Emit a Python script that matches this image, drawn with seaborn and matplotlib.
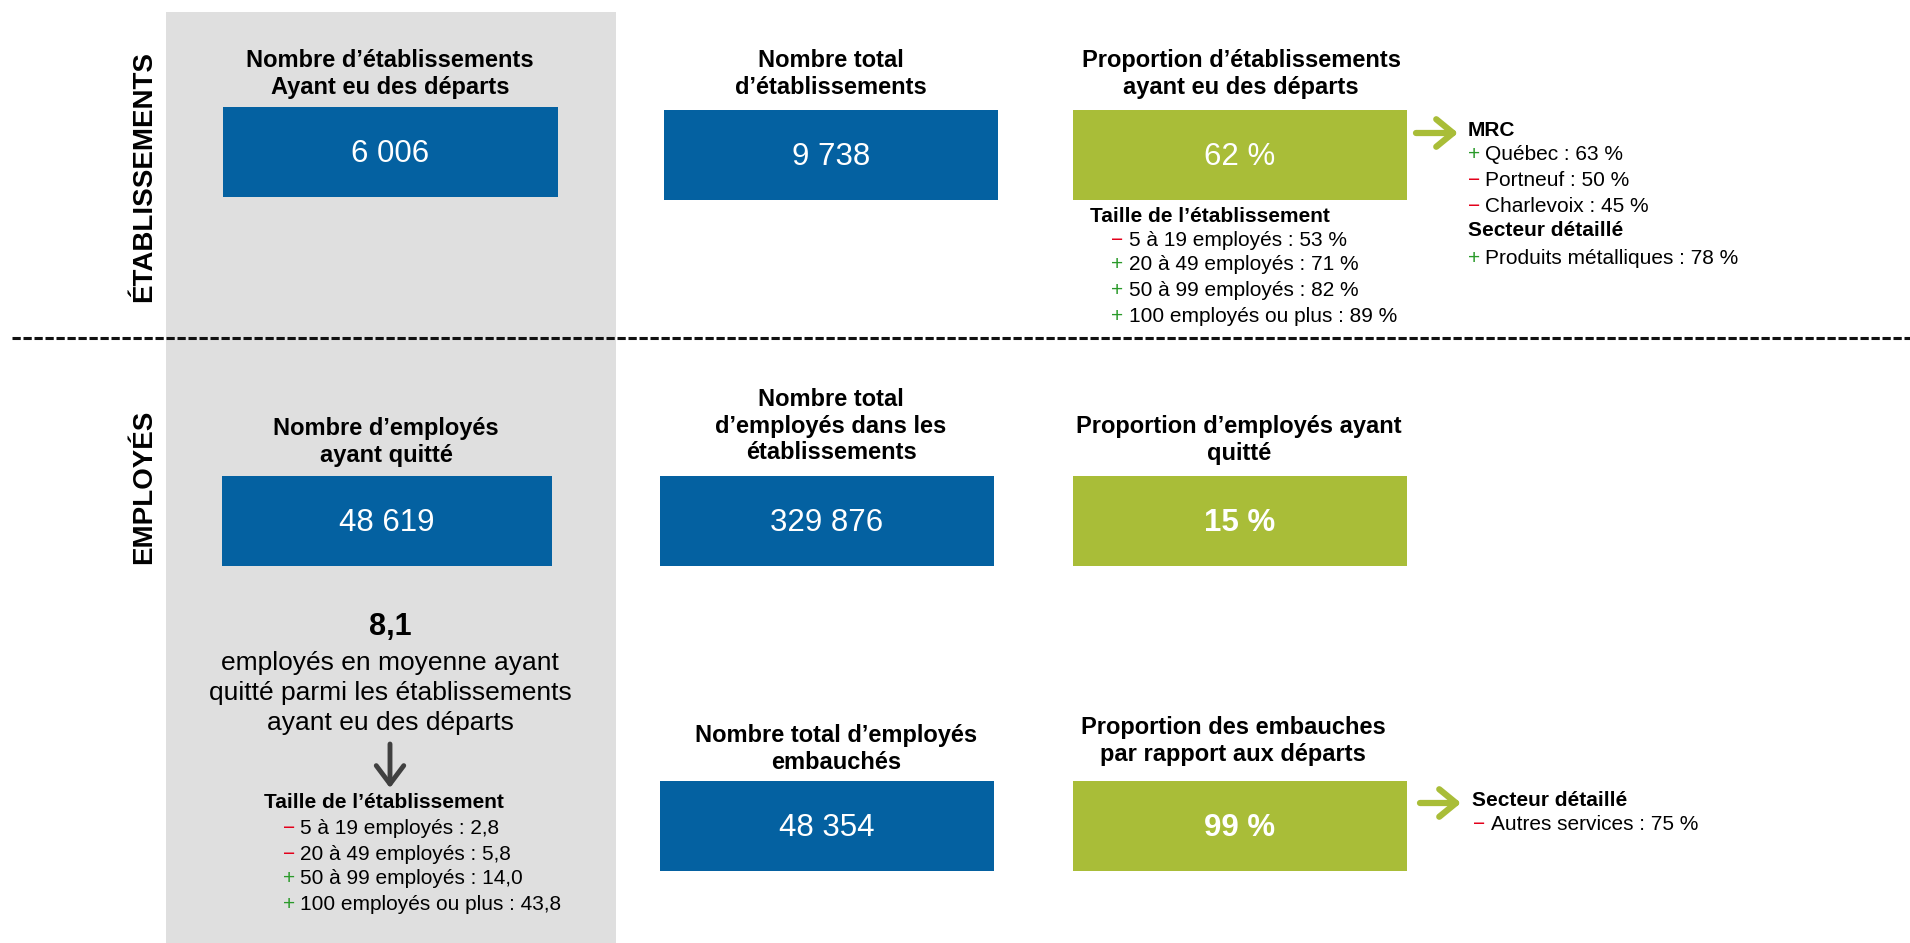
import seaborn as sns
import matplotlib.pyplot as plt
from matplotlib.patches import Rectangle

kpi_titles = [
    "Nombre d’établissements\nAyant eu des départs",
    "Nombre total\nd’établissements",
    "Proportion d’établissements\nayant eu des départs",
    "Nombre d’employés\nayant quitté",
    "Nombre total\nd’employés dans les\nétablissements",
    "Proportion d’employés ayant\nquitté",
    "Nombre total d’employés\nembauchés",
    "Proportion des embauches\npar rapport aux départs",
]
kpi_values = [6006, 9738, 62, 48619, 329876, 15, 48354, 99]
kpi_is_pct = [False, False, True, False, False, True, False, True]
kpi_bold = [False, False, False, False, False, True, False, True]

section_labels = ["ÉTABLISSEMENTS", "EMPLOYÉS"]

taille_labels = ["5 à 19 employés", "20 à 49 employés", "50 à 99 employés", "100 employés ou plus"]
taille_etab_pct = [53, 71, 82, 89]
taille_etab_sign = ["-", "+", "+", "+"]

mrc_names = ["Québec", "Portneuf", "Charlevoix"]
mrc_pct = [63, 50, 45]
mrc_sign = ["+", "-", "-"]

secteur_etab = ["Produits métalliques"]
secteur_etab_pct = [78]
secteur_etab_sign = ["+"]

moyenne_quitte = 8.1
taille_emp_moy = [2.8, 5.8, 14.0, 43.8]
taille_emp_sign = ["-", "-", "+", "+"]

secteur_emb = ["Autres services"]
secteur_emb_pct = [75]
secteur_emb_sign = ["-"]

# ---- layout (pixels of a 1910x943 canvas) ----
tile_cx = [390, 831, 1240, 387, 827, 1240, 827, 1240]
tile_top = [107, 110, 110, 476, 476, 476, 781, 781]
tile_w = [335, 334, 334, 330, 334, 334, 334, 334]
tile_h = 90
title_cx = [390, 831, 1241, 386, 831, 1239, 836, 1233]
title_cy = [74, 74, 74, 442, 426, 440, 749, 741]

BLUE = "#0461A1"
GREEN = "#A9BD38"
GREY = "#DFDFDF"
RED = "#E3001B"
PLUS = "#2A9A2A"


def fmt_int(n):
    return f"{n:,}".replace(",", " ")


def fmt_dec(v):
    return f"{v:.1f}".replace(".", ",")


def fmt_value(v, pct):
    return f"{v} %" if pct else fmt_int(v)


sns.set_theme(style="white")
plt.rcParams["font.family"] = ["Liberation Sans", "DejaVu Sans"]

fig = plt.figure(figsize=(19.1, 9.43), dpi=100)
ax = fig.add_axes([0, 0, 1, 1])
ax.set_xlim(0, 1910)
ax.set_ylim(943, 0)
ax.axis("off")

# grey column behind the first tiles
ax.add_patch(Rectangle((166, 12), 450, 940, facecolor=GREY, edgecolor="none", zorder=0))

# dashed separator
ax.plot([12, 1910], [338, 338], color="#111111", lw=2.2, dashes=(2.7, 0.9), zorder=1)

# section labels
ax.text(144, 177, section_labels[0], rotation=90, ha="center", va="center",
        fontsize=20, fontweight="bold", color="black")
ax.text(144, 487, section_labels[1], rotation=90, ha="center", va="center",
        fontsize=20, fontweight="bold", color="black")

# KPI tiles
colors = [GREEN if p else BLUE for p in kpi_is_pct]
ax.bar(tile_cx, tile_h, bottom=tile_top, width=tile_w, color=colors,
       edgecolor="none", linewidth=0, zorder=2)
for i, title in enumerate(kpi_titles):
    ax.text(title_cx[i], title_cy[i], title, ha="center", va="center",
            fontsize=17, fontweight="bold", color="black")
    ax.text(tile_cx[i], tile_top[i] + tile_h / 2 + 2, fmt_value(kpi_values[i], kpi_is_pct[i]),
            ha="center", va="center", fontsize=22.5, color="white",
            fontweight="bold" if kpi_bold[i] else "normal", zorder=3)


def sign_list(x_sign, x_text, ys, signs, texts, size=15):
    for y, s, t in zip(ys, signs, texts):
        ax.text(x_sign, y, "+" if s == "+" else "−", ha="left", va="center",
                fontsize=size, color=PLUS if s == "+" else RED)
        ax.text(x_text, y, t, ha="left", va="center", fontsize=size, color="black")


def header(x, y, t):
    ax.text(x, y, t, ha="left", va="center", fontsize=15, fontweight="bold", color="black")


def green_arrow(x0, x1, y):
    ax.annotate("", xy=(x1, y), xytext=(x0, y),
                arrowprops=dict(arrowstyle="->,head_length=0.55,head_width=0.45",
                                lw=4.5, color=GREEN, mutation_scale=22,
                                shrinkA=0, shrinkB=0))


# establishment size breakdown (under 62 %)
header(1090, 216, "Taille de l’établissement")
sign_list(1111, 1129, [240, 265, 291, 317], taille_etab_sign,
          [f"{l} : {p} %" for l, p in zip(taille_labels, taille_etab_pct)])

# MRC / sector breakdown
green_arrow(1416, 1458, 133)
header(1468, 131, "MRC")
sign_list(1468, 1485, [155, 181, 206], mrc_sign,
          [f"{n} : {p} %" for n, p in zip(mrc_names, mrc_pct)])
header(1468, 231, "Secteur détaillé")
sign_list(1468, 1485, [259], secteur_etab_sign,
          [f"{n} : {p} %" for n, p in zip(secteur_etab, secteur_etab_pct)])

# average departures per establishment
ax.text(390, 627, fmt_dec(moyenne_quitte), ha="center", va="center",
        fontsize=22, fontweight="bold", color="black")
ax.text(390, 693, "employés en moyenne ayant\nquitté parmi les établissements\nayant eu des départs",
        ha="center", va="center", fontsize=19, color="black", linespacing=1.3)
ax.annotate("", xy=(390, 788), xytext=(390, 744),
            arrowprops=dict(arrowstyle="->,head_length=0.6,head_width=0.45",
                            lw=3.5, color="#404040", mutation_scale=22,
                            shrinkA=0, shrinkB=0))
header(264, 803, "Taille de l’établissement")
sign_list(283, 300, [828, 854, 878, 905], taille_emp_sign,
          [f"{l} : {fmt_dec(v)}" for l, v in zip(taille_labels, taille_emp_moy)])

# hiring sector breakdown
green_arrow(1420, 1461, 803)
header(1472, 801, "Secteur détaillé")
sign_list(1473, 1491, [824], secteur_emb_sign,
          [f"{n} : {p} %" for n, p in zip(secteur_emb, secteur_emb_pct)])

fig.savefig("out.png", dpi=100, facecolor="white")
